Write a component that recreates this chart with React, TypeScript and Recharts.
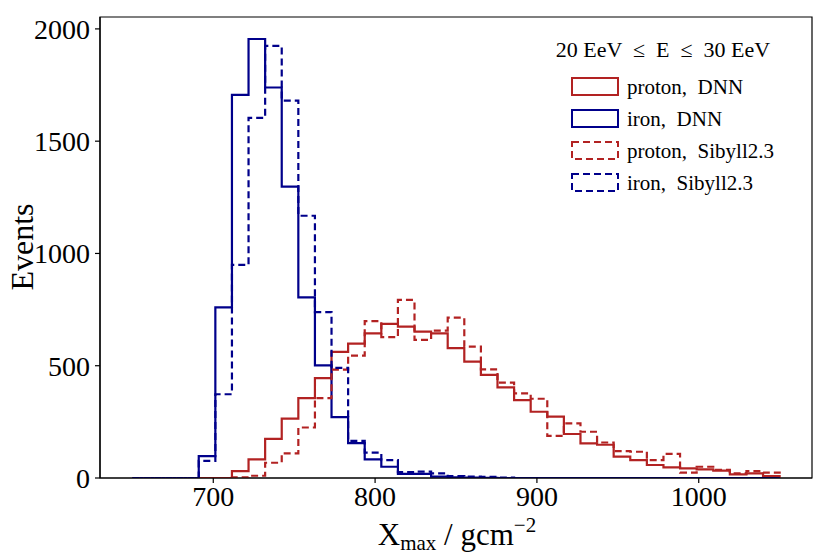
import React from "react";
import { LineChart, Line, XAxis, YAxis, ReferenceArea } from "recharts";

// 39 equal bins between 650 and 1050 g/cm^2
const binLo = 650;
const binHi = 1050;

const protonDnn = [
  0, 0, 0, 0, 0, 0, 31, 83, 174, 264, 356, 445, 562, 598, 644, 686, 674, 652, 644, 578,
  518, 459, 404, 347, 295, 273, 196, 154, 148, 95, 80, 58, 47, 43, 38, 33, 16, 21, 9,
];
const ironDnn = [
  0, 0, 0, 0, 97, 760, 1706, 1955, 1739, 1298, 804, 502, 271, 155, 83, 50, 18, 18, 6, 3,
  2, 1, 0, 0, 0, 0, 0, 0, 0, 0, 0, 0, 0, 0, 0, 0, 0, 0, 0,
];
const protonSibyll = [
  0, 0, 0, 0, 0, 0, 3, 10, 68, 110, 225, 356, 483, 545, 699, 627, 793, 615, 656, 714,
  585, 484, 425, 377, 353, 188, 243, 206, 158, 120, 117, 80, 107, 24, 50, 36, 21, 31, 24,
];
const ironSibyll = [
  0, 0, 0, 0, 76, 373, 949, 1604, 1924, 1681, 1168, 739, 490, 165, 113, 80, 26, 28, 21, 9,
  6, 5, 2, 0, 0, 0, 0, 0, 0, 0, 0, 0, 0, 0, 0, 0, 0, 0, 0,
];

const xTicks = [700, 800, 900, 1000];
const yTicks = [0, 500, 1000, 1500, 2000];
const xRange = [630, 1070];
const yRange = [0, 2053];

const RED = "#b22222";
const BLUE = "#00008b";
const FONT = "'Liberation Serif', 'DejaVu Serif', serif";

const series = [
  { name: "proton, DNN", counts: protonDnn, color: RED, dashed: false },
  { name: "iron, DNN", counts: ironDnn, color: BLUE, dashed: false },
  { name: "proton, Sibyll2.3", counts: protonSibyll, color: RED, dashed: true },
  { name: "iron, Sibyll2.3", counts: ironSibyll, color: BLUE, dashed: true },
];

// outline of a step histogram, like matplotlib's histtype="step"
function toSteps(counts: number[]) {
  const w = (binHi - binLo) / counts.length;
  const pts = counts.map((c, i) => ({ x: binLo + i * w, y: c }));
  pts.unshift({ x: binLo, y: 0 });
  pts.push({ x: binHi, y: counts[counts.length - 1] }, { x: binHi, y: 0 });
  return pts;
}

export default function App() {
  const tickStyle = { fontSize: 28, fill: "#000", fontFamily: FONT };
  return (
    <div style={{ position: "absolute", left: 0, top: 0, width: 838, height: 559, background: "#fff" }}>
      <LineChart width={838} height={559} margin={{ top: 17, right: 26, bottom: 0, left: 0 }}>
        <XAxis
          type="number"
          dataKey="x"
          domain={xRange}
          ticks={xTicks}
          allowDataOverflow
          height={81}
          tickSize={5}
          tickMargin={3}
          tick={tickStyle}
          stroke="#000"
          strokeWidth={1.2}
        />
        <YAxis
          type="number"
          domain={yRange}
          ticks={yTicks}
          allowDataOverflow
          width={100}
          tickSize={5}
          tickMargin={5}
          tick={tickStyle}
          stroke="#000"
          strokeWidth={1.2}
        />
        {series.map((s) => (
          <Line
            key={s.name}
            data={toSteps(s.counts)}
            dataKey="y"
            type="stepAfter"
            stroke={s.color}
            strokeWidth={2.2}
            strokeDasharray={s.dashed ? "7 4" : undefined}
            dot={false}
            activeDot={false}
            isAnimationActive={false}
          />
        ))}
        <ReferenceArea
          x1={xRange[0]}
          x2={xRange[1]}
          y1={yRange[0]}
          y2={yRange[1]}
          fill="none"
          fillOpacity={0}
          stroke="#000"
          strokeWidth={1.2}
          ifOverflow="visible"
        />
      </LineChart>
      <svg
        width={838}
        height={559}
        style={{ position: "absolute", left: 0, top: 0, pointerEvents: "none" }}
        fontFamily={FONT}
      >
        <text x={663} y={57} textAnchor="middle" fontSize={22} xmlSpace="preserve">
          {"20 EeV  ≤  E  ≤  30 EeV"}
        </text>
        {series.map((s, k) => (
          <g key={s.name}>
            <rect
              x={572}
              y={78 + 32 * k}
              width={46}
              height={17}
              fill="none"
              stroke={s.color}
              strokeWidth={2}
              strokeDasharray={s.dashed ? "7 4" : undefined}
            />
            <text x={627} y={94 + 32 * k} fontSize={21} xmlSpace="preserve">
              {s.name.replace(", ", ",  ")}
            </text>
          </g>
        ))}
        <text x={457} y={545} textAnchor="middle" fontSize={31}>
          X<tspan fontSize={21} dy={5}>max</tspan>
          <tspan dy={-5}>{" / gcm"}</tspan>
          <tspan fontSize={21} dy={-13}>−2</tspan>
        </text>
        <text transform="translate(33 247) rotate(-90)" textAnchor="middle" fontSize={32}>
          Events
        </text>
      </svg>
    </div>
  );
}
